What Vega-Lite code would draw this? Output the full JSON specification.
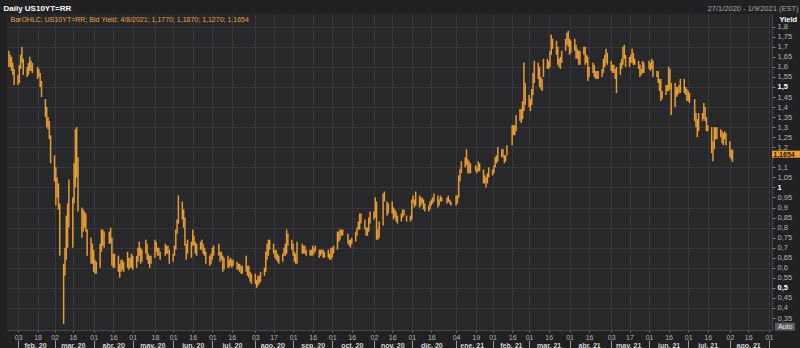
{
"$schema": "https://vega.github.io/schema/vega-lite/v6.json",
"width": 765, "height": 316,
"autosize": {"type": "none"},
"padding": {"left": 7, "top": 14, "right": 28, "bottom": 18},
"background": "#212123",
"config": {"view": {"fill": "#28282b", "stroke": null}, "font": "Liberation Sans"},
"resolve": {"axis": {"x": "independent", "y": "independent"}},
"datasets": {
"yld": [
{"d":"2020-01-27","l":1.60,"h":1.68},{"d":"2020-01-28","l":1.60,"h":1.66},{"d":"2020-01-29","l":1.58,"h":1.65},{"d":"2020-01-30","l":1.56,"h":1.62},{"d":"2020-01-31","l":1.51,"h":1.59},
{"d":"2020-02-03","l":1.51,"h":1.56},{"d":"2020-02-04","l":1.52,"h":1.61},{"d":"2020-02-05","l":1.59,"h":1.66},{"d":"2020-02-06","l":1.62,"h":1.70},{"d":"2020-02-07","l":1.56,"h":1.64},
{"d":"2020-02-10","l":1.55,"h":1.60},{"d":"2020-02-11","l":1.56,"h":1.62},{"d":"2020-02-12","l":1.58,"h":1.65},{"d":"2020-02-13","l":1.58,"h":1.63},{"d":"2020-02-14","l":1.57,"h":1.62},
{"d":"2020-02-18","l":1.54,"h":1.60},{"d":"2020-02-19","l":1.55,"h":1.59},{"d":"2020-02-20","l":1.50,"h":1.57},{"d":"2020-02-21","l":1.45,"h":1.53},
{"d":"2020-02-24","l":1.35,"h":1.44},{"d":"2020-02-25","l":1.30,"h":1.40},{"d":"2020-02-26","l":1.29,"h":1.35},{"d":"2020-02-27","l":1.24,"h":1.33},{"d":"2020-02-28","l":1.12,"h":1.26},
{"d":"2020-03-02","l":1.03,"h":1.16},{"d":"2020-03-03","l":0.91,"h":1.10},{"d":"2020-03-04","l":0.95,"h":1.05},{"d":"2020-03-05","l":0.89,"h":1.02},{"d":"2020-03-06","l":0.66,"h":0.92},
{"d":"2020-03-09","l":0.32,"h":0.62},{"d":"2020-03-10","l":0.56,"h":0.70},{"d":"2020-03-11","l":0.64,"h":0.86},{"d":"2020-03-12","l":0.70,"h":0.92},{"d":"2020-03-13","l":0.80,"h":1.04},
{"d":"2020-03-16","l":0.70,"h":0.95},{"d":"2020-03-17","l":0.92,"h":1.12},{"d":"2020-03-18","l":1.00,"h":1.29},{"d":"2020-03-19","l":1.05,"h":1.30},{"d":"2020-03-20","l":0.88,"h":1.15},
{"d":"2020-03-23","l":0.75,"h":0.90},{"d":"2020-03-24","l":0.78,"h":0.89},{"d":"2020-03-25","l":0.80,"h":0.88},{"d":"2020-03-26","l":0.78,"h":0.87},{"d":"2020-03-27","l":0.66,"h":0.79},
{"d":"2020-03-30","l":0.62,"h":0.75},{"d":"2020-03-31","l":0.62,"h":0.72},{"d":"2020-04-01","l":0.58,"h":0.69},{"d":"2020-04-02","l":0.57,"h":0.64},{"d":"2020-04-03","l":0.57,"h":0.63},
{"d":"2020-04-06","l":0.60,"h":0.72},{"d":"2020-04-07","l":0.68,"h":0.79},{"d":"2020-04-08","l":0.71,"h":0.79},{"d":"2020-04-09","l":0.70,"h":0.78},
{"d":"2020-04-13","l":0.72,"h":0.78},{"d":"2020-04-14","l":0.72,"h":0.80},{"d":"2020-04-15","l":0.61,"h":0.75},{"d":"2020-04-16","l":0.60,"h":0.67},{"d":"2020-04-17","l":0.60,"h":0.67},
{"d":"2020-04-20","l":0.58,"h":0.66},{"d":"2020-04-21","l":0.55,"h":0.62},{"d":"2020-04-22","l":0.58,"h":0.64},{"d":"2020-04-23","l":0.59,"h":0.64},{"d":"2020-04-24","l":0.58,"h":0.63},
{"d":"2020-04-27","l":0.60,"h":0.68},{"d":"2020-04-28","l":0.59,"h":0.65},{"d":"2020-04-29","l":0.60,"h":0.65},{"d":"2020-04-30","l":0.60,"h":0.67},{"d":"2020-05-01","l":0.59,"h":0.66},
{"d":"2020-05-04","l":0.60,"h":0.66},{"d":"2020-05-05","l":0.63,"h":0.70},{"d":"2020-05-06","l":0.66,"h":0.73},{"d":"2020-05-07","l":0.62,"h":0.70},{"d":"2020-05-08","l":0.63,"h":0.69},
{"d":"2020-05-11","l":0.67,"h":0.74},{"d":"2020-05-12","l":0.64,"h":0.72},{"d":"2020-05-13","l":0.62,"h":0.67},{"d":"2020-05-14","l":0.60,"h":0.66},{"d":"2020-05-15","l":0.62,"h":0.66},
{"d":"2020-05-18","l":0.65,"h":0.74},{"d":"2020-05-19","l":0.68,"h":0.73},{"d":"2020-05-20","l":0.66,"h":0.70},{"d":"2020-05-21","l":0.66,"h":0.70},{"d":"2020-05-22","l":0.64,"h":0.68},
{"d":"2020-05-26","l":0.66,"h":0.72},{"d":"2020-05-27","l":0.67,"h":0.71},{"d":"2020-05-28","l":0.67,"h":0.71},{"d":"2020-05-29","l":0.62,"h":0.69},
{"d":"2020-06-01","l":0.63,"h":0.67},{"d":"2020-06-02","l":0.66,"h":0.71},{"d":"2020-06-03","l":0.69,"h":0.79},{"d":"2020-06-04","l":0.77,"h":0.84},{"d":"2020-06-05","l":0.82,"h":0.96},
{"d":"2020-06-08","l":0.84,"h":0.93},{"d":"2020-06-09","l":0.80,"h":0.89},{"d":"2020-06-10","l":0.71,"h":0.85},{"d":"2020-06-11","l":0.64,"h":0.72},{"d":"2020-06-12","l":0.67,"h":0.74},
{"d":"2020-06-15","l":0.65,"h":0.73},{"d":"2020-06-16","l":0.71,"h":0.79},{"d":"2020-06-17","l":0.71,"h":0.76},{"d":"2020-06-18","l":0.67,"h":0.73},{"d":"2020-06-19","l":0.66,"h":0.72},
{"d":"2020-06-22","l":0.69,"h":0.73},{"d":"2020-06-23","l":0.69,"h":0.74},{"d":"2020-06-24","l":0.67,"h":0.72},{"d":"2020-06-25","l":0.66,"h":0.70},{"d":"2020-06-26","l":0.62,"h":0.68},
{"d":"2020-06-29","l":0.61,"h":0.66},{"d":"2020-06-30","l":0.62,"h":0.67},{"d":"2020-07-01","l":0.64,"h":0.70},{"d":"2020-07-02","l":0.66,"h":0.71},
{"d":"2020-07-06","l":0.66,"h":0.72},{"d":"2020-07-07","l":0.63,"h":0.68},{"d":"2020-07-08","l":0.64,"h":0.68},{"d":"2020-07-09","l":0.58,"h":0.66},{"d":"2020-07-10","l":0.59,"h":0.65},
{"d":"2020-07-13","l":0.60,"h":0.66},{"d":"2020-07-14","l":0.60,"h":0.64},{"d":"2020-07-15","l":0.61,"h":0.65},{"d":"2020-07-16","l":0.60,"h":0.64},{"d":"2020-07-17","l":0.61,"h":0.64},
{"d":"2020-07-20","l":0.59,"h":0.63},{"d":"2020-07-21","l":0.59,"h":0.62},{"d":"2020-07-22","l":0.58,"h":0.62},{"d":"2020-07-23","l":0.57,"h":0.61},{"d":"2020-07-24","l":0.57,"h":0.61},
{"d":"2020-07-27","l":0.58,"h":0.66},{"d":"2020-07-28","l":0.56,"h":0.61},{"d":"2020-07-29","l":0.55,"h":0.61},{"d":"2020-07-30","l":0.53,"h":0.58},{"d":"2020-07-31","l":0.52,"h":0.57},
{"d":"2020-08-03","l":0.52,"h":0.57},{"d":"2020-08-04","l":0.50,"h":0.54},{"d":"2020-08-05","l":0.51,"h":0.56},{"d":"2020-08-06","l":0.52,"h":0.56},{"d":"2020-08-07","l":0.53,"h":0.58},
{"d":"2020-08-10","l":0.56,"h":0.60},{"d":"2020-08-11","l":0.58,"h":0.68},{"d":"2020-08-12","l":0.64,"h":0.72},{"d":"2020-08-13","l":0.66,"h":0.74},{"d":"2020-08-14","l":0.69,"h":0.74},
{"d":"2020-08-17","l":0.67,"h":0.72},{"d":"2020-08-18","l":0.65,"h":0.69},{"d":"2020-08-19","l":0.64,"h":0.69},{"d":"2020-08-20","l":0.63,"h":0.67},{"d":"2020-08-21","l":0.62,"h":0.66},
{"d":"2020-08-24","l":0.63,"h":0.67},{"d":"2020-08-25","l":0.66,"h":0.70},{"d":"2020-08-26","l":0.66,"h":0.72},{"d":"2020-08-27","l":0.67,"h":0.79},{"d":"2020-08-28","l":0.71,"h":0.77},
{"d":"2020-08-31","l":0.69,"h":0.74},{"d":"2020-09-01","l":0.66,"h":0.72},{"d":"2020-09-02","l":0.63,"h":0.68},{"d":"2020-09-03","l":0.62,"h":0.67},{"d":"2020-09-04","l":0.62,"h":0.73},
{"d":"2020-09-08","l":0.67,"h":0.72},{"d":"2020-09-09","l":0.67,"h":0.71},{"d":"2020-09-10","l":0.67,"h":0.71},{"d":"2020-09-11","l":0.66,"h":0.69},
{"d":"2020-09-14","l":0.66,"h":0.69},{"d":"2020-09-15","l":0.66,"h":0.69},{"d":"2020-09-16","l":0.66,"h":0.71},{"d":"2020-09-17","l":0.67,"h":0.70},{"d":"2020-09-18","l":0.68,"h":0.71},
{"d":"2020-09-21","l":0.65,"h":0.69},{"d":"2020-09-22","l":0.66,"h":0.69},{"d":"2020-09-23","l":0.67,"h":0.69},{"d":"2020-09-24","l":0.65,"h":0.69},{"d":"2020-09-25","l":0.65,"h":0.68},
{"d":"2020-09-28","l":0.65,"h":0.69},{"d":"2020-09-29","l":0.64,"h":0.67},{"d":"2020-09-30","l":0.64,"h":0.70},{"d":"2020-10-01","l":0.65,"h":0.70},{"d":"2020-10-02","l":0.67,"h":0.71},
{"d":"2020-10-05","l":0.69,"h":0.78},{"d":"2020-10-06","l":0.73,"h":0.78},{"d":"2020-10-07","l":0.74,"h":0.79},{"d":"2020-10-08","l":0.76,"h":0.79},{"d":"2020-10-09","l":0.76,"h":0.79},
{"d":"2020-10-13","l":0.72,"h":0.77},{"d":"2020-10-14","l":0.71,"h":0.74},{"d":"2020-10-15","l":0.70,"h":0.74},{"d":"2020-10-16","l":0.72,"h":0.75},
{"d":"2020-10-19","l":0.73,"h":0.78},{"d":"2020-10-20","l":0.76,"h":0.80},{"d":"2020-10-21","l":0.79,"h":0.83},{"d":"2020-10-22","l":0.79,"h":0.87},{"d":"2020-10-23","l":0.82,"h":0.87},
{"d":"2020-10-26","l":0.79,"h":0.84},{"d":"2020-10-27","l":0.76,"h":0.80},{"d":"2020-10-28","l":0.76,"h":0.80},{"d":"2020-10-29","l":0.78,"h":0.85},{"d":"2020-10-30","l":0.82,"h":0.88},
{"d":"2020-11-02","l":0.84,"h":0.88},{"d":"2020-11-03","l":0.85,"h":0.95},{"d":"2020-11-04","l":0.74,"h":0.93},{"d":"2020-11-05","l":0.74,"h":0.79},{"d":"2020-11-06","l":0.75,"h":0.83},
{"d":"2020-11-09","l":0.81,"h":0.97},{"d":"2020-11-10","l":0.93,"h":0.98},{"d":"2020-11-12","l":0.86,"h":0.93},{"d":"2020-11-13","l":0.87,"h":0.92},
{"d":"2020-11-16","l":0.87,"h":0.93},{"d":"2020-11-17","l":0.84,"h":0.90},{"d":"2020-11-18","l":0.85,"h":0.89},{"d":"2020-11-19","l":0.83,"h":0.88},{"d":"2020-11-20","l":0.82,"h":0.86},
{"d":"2020-11-23","l":0.83,"h":0.87},{"d":"2020-11-24","l":0.85,"h":0.89},{"d":"2020-11-25","l":0.86,"h":0.89},{"d":"2020-11-27","l":0.83,"h":0.86},
{"d":"2020-11-30","l":0.83,"h":0.86},{"d":"2020-12-01","l":0.84,"h":0.94},{"d":"2020-12-02","l":0.92,"h":0.96},{"d":"2020-12-03","l":0.90,"h":0.94},{"d":"2020-12-04","l":0.91,"h":0.98},
{"d":"2020-12-07","l":0.90,"h":0.96},{"d":"2020-12-08","l":0.91,"h":0.95},{"d":"2020-12-09","l":0.92,"h":0.95},{"d":"2020-12-10","l":0.89,"h":0.94},{"d":"2020-12-11","l":0.88,"h":0.92},
{"d":"2020-12-14","l":0.88,"h":0.91},{"d":"2020-12-15","l":0.89,"h":0.93},{"d":"2020-12-16","l":0.91,"h":0.94},{"d":"2020-12-17","l":0.92,"h":0.95},{"d":"2020-12-18","l":0.93,"h":0.97},
{"d":"2020-12-21","l":0.90,"h":0.96},{"d":"2020-12-22","l":0.91,"h":0.94},{"d":"2020-12-23","l":0.93,"h":0.96},{"d":"2020-12-24","l":0.93,"h":0.95},
{"d":"2020-12-28","l":0.92,"h":0.95},{"d":"2020-12-29","l":0.93,"h":0.96},{"d":"2020-12-30","l":0.92,"h":0.94},{"d":"2020-12-31","l":0.91,"h":0.93},
{"d":"2021-01-04","l":0.91,"h":0.96},{"d":"2021-01-05","l":0.92,"h":0.96},{"d":"2021-01-06","l":0.95,"h":1.06},{"d":"2021-01-07","l":1.03,"h":1.09},{"d":"2021-01-08","l":1.07,"h":1.13},
{"d":"2021-01-11","l":1.10,"h":1.15},{"d":"2021-01-12","l":1.11,"h":1.19},{"d":"2021-01-13","l":1.07,"h":1.14},{"d":"2021-01-14","l":1.07,"h":1.13},{"d":"2021-01-15","l":1.07,"h":1.12},
{"d":"2021-01-19","l":1.08,"h":1.11},{"d":"2021-01-20","l":1.07,"h":1.10},{"d":"2021-01-21","l":1.08,"h":1.13},{"d":"2021-01-22","l":1.08,"h":1.12},
{"d":"2021-01-25","l":1.02,"h":1.09},{"d":"2021-01-26","l":1.02,"h":1.06},{"d":"2021-01-27","l":1.00,"h":1.05},{"d":"2021-01-28","l":1.02,"h":1.07},{"d":"2021-01-29","l":1.05,"h":1.10},
{"d":"2021-02-01","l":1.06,"h":1.09},{"d":"2021-02-02","l":1.07,"h":1.11},{"d":"2021-02-03","l":1.10,"h":1.15},{"d":"2021-02-04","l":1.12,"h":1.16},{"d":"2021-02-05","l":1.13,"h":1.20},
{"d":"2021-02-08","l":1.15,"h":1.19},{"d":"2021-02-09","l":1.15,"h":1.19},{"d":"2021-02-10","l":1.12,"h":1.16},{"d":"2021-02-11","l":1.13,"h":1.16},{"d":"2021-02-12","l":1.16,"h":1.21},
{"d":"2021-02-16","l":1.21,"h":1.31},{"d":"2021-02-17","l":1.26,"h":1.31},{"d":"2021-02-18","l":1.26,"h":1.31},{"d":"2021-02-19","l":1.28,"h":1.36},
{"d":"2021-02-22","l":1.33,"h":1.39},{"d":"2021-02-23","l":1.32,"h":1.39},{"d":"2021-02-24","l":1.34,"h":1.43},{"d":"2021-02-25","l":1.38,"h":1.62},{"d":"2021-02-26","l":1.41,"h":1.52},
{"d":"2021-03-01","l":1.40,"h":1.46},{"d":"2021-03-02","l":1.38,"h":1.44},{"d":"2021-03-03","l":1.41,"h":1.49},{"d":"2021-03-04","l":1.46,"h":1.57},{"d":"2021-03-05","l":1.52,"h":1.63},
{"d":"2021-03-08","l":1.54,"h":1.62},{"d":"2021-03-09","l":1.50,"h":1.60},{"d":"2021-03-10","l":1.49,"h":1.55},{"d":"2021-03-11","l":1.48,"h":1.54},{"d":"2021-03-12","l":1.55,"h":1.64},
{"d":"2021-03-15","l":1.59,"h":1.64},{"d":"2021-03-16","l":1.59,"h":1.63},{"d":"2021-03-17","l":1.60,"h":1.68},{"d":"2021-03-18","l":1.66,"h":1.76},{"d":"2021-03-19","l":1.69,"h":1.74},
{"d":"2021-03-22","l":1.66,"h":1.73},{"d":"2021-03-23","l":1.61,"h":1.70},{"d":"2021-03-24","l":1.60,"h":1.64},{"d":"2021-03-25","l":1.59,"h":1.65},{"d":"2021-03-26","l":1.62,"h":1.68},
{"d":"2021-03-29","l":1.68,"h":1.74},{"d":"2021-03-30","l":1.71,"h":1.77},{"d":"2021-03-31","l":1.70,"h":1.78},{"d":"2021-04-01","l":1.66,"h":1.74},{"d":"2021-04-02","l":1.67,"h":1.73},
{"d":"2021-04-05","l":1.68,"h":1.74},{"d":"2021-04-06","l":1.64,"h":1.71},{"d":"2021-04-07","l":1.64,"h":1.69},{"d":"2021-04-08","l":1.61,"h":1.68},{"d":"2021-04-09","l":1.61,"h":1.68},
{"d":"2021-04-12","l":1.66,"h":1.70},{"d":"2021-04-13","l":1.61,"h":1.70},{"d":"2021-04-14","l":1.62,"h":1.66},{"d":"2021-04-15","l":1.53,"h":1.65},{"d":"2021-04-16","l":1.55,"h":1.60},
{"d":"2021-04-19","l":1.57,"h":1.62},{"d":"2021-04-20","l":1.55,"h":1.61},{"d":"2021-04-21","l":1.54,"h":1.58},{"d":"2021-04-22","l":1.54,"h":1.58},{"d":"2021-04-23","l":1.54,"h":1.58},
{"d":"2021-04-26","l":1.55,"h":1.59},{"d":"2021-04-27","l":1.57,"h":1.64},{"d":"2021-04-28","l":1.60,"h":1.66},{"d":"2021-04-29","l":1.62,"h":1.69},{"d":"2021-04-30","l":1.61,"h":1.67},
{"d":"2021-05-03","l":1.58,"h":1.63},{"d":"2021-05-04","l":1.57,"h":1.61},{"d":"2021-05-05","l":1.57,"h":1.61},{"d":"2021-05-06","l":1.54,"h":1.59},{"d":"2021-05-07","l":1.47,"h":1.60},
{"d":"2021-05-10","l":1.56,"h":1.62},{"d":"2021-05-11","l":1.59,"h":1.64},{"d":"2021-05-12","l":1.61,"h":1.70},{"d":"2021-05-13","l":1.64,"h":1.71},{"d":"2021-05-14","l":1.60,"h":1.66},
{"d":"2021-05-17","l":1.60,"h":1.65},{"d":"2021-05-18","l":1.62,"h":1.66},{"d":"2021-05-19","l":1.62,"h":1.69},{"d":"2021-05-20","l":1.61,"h":1.67},{"d":"2021-05-21","l":1.61,"h":1.64},
{"d":"2021-05-24","l":1.59,"h":1.63},{"d":"2021-05-25","l":1.55,"h":1.61},{"d":"2021-05-26","l":1.56,"h":1.59},{"d":"2021-05-27","l":1.57,"h":1.63},{"d":"2021-05-28","l":1.57,"h":1.62},
{"d":"2021-06-01","l":1.59,"h":1.63},{"d":"2021-06-02","l":1.58,"h":1.62},{"d":"2021-06-03","l":1.59,"h":1.64},{"d":"2021-06-04","l":1.55,"h":1.63},
{"d":"2021-06-07","l":1.55,"h":1.58},{"d":"2021-06-08","l":1.52,"h":1.58},{"d":"2021-06-09","l":1.48,"h":1.54},{"d":"2021-06-10","l":1.43,"h":1.54},{"d":"2021-06-11","l":1.44,"h":1.48},
{"d":"2021-06-14","l":1.46,"h":1.51},{"d":"2021-06-15","l":1.48,"h":1.51},{"d":"2021-06-16","l":1.48,"h":1.60},{"d":"2021-06-17","l":1.49,"h":1.59},{"d":"2021-06-18","l":1.36,"h":1.52},
{"d":"2021-06-21","l":1.40,"h":1.52},{"d":"2021-06-22","l":1.45,"h":1.50},{"d":"2021-06-23","l":1.46,"h":1.50},{"d":"2021-06-24","l":1.47,"h":1.51},{"d":"2021-06-25","l":1.47,"h":1.54},
{"d":"2021-06-28","l":1.47,"h":1.54},{"d":"2021-06-29","l":1.46,"h":1.50},{"d":"2021-06-30","l":1.43,"h":1.49},{"d":"2021-07-01","l":1.43,"h":1.48},{"d":"2021-07-02","l":1.42,"h":1.47},
{"d":"2021-07-06","l":1.33,"h":1.44},{"d":"2021-07-07","l":1.30,"h":1.37},{"d":"2021-07-08","l":1.25,"h":1.34},{"d":"2021-07-09","l":1.28,"h":1.37},
{"d":"2021-07-12","l":1.33,"h":1.37},{"d":"2021-07-13","l":1.34,"h":1.42},{"d":"2021-07-14","l":1.33,"h":1.40},{"d":"2021-07-15","l":1.28,"h":1.35},{"d":"2021-07-16","l":1.28,"h":1.31},
{"d":"2021-07-19","l":1.17,"h":1.30},{"d":"2021-07-20","l":1.13,"h":1.23},{"d":"2021-07-21","l":1.19,"h":1.30},{"d":"2021-07-22","l":1.24,"h":1.30},{"d":"2021-07-23","l":1.24,"h":1.30},
{"d":"2021-07-26","l":1.25,"h":1.29},{"d":"2021-07-27","l":1.22,"h":1.28},{"d":"2021-07-28","l":1.21,"h":1.27},{"d":"2021-07-29","l":1.24,"h":1.28},{"d":"2021-07-30","l":1.21,"h":1.27},
{"d":"2021-08-02","l":1.15,"h":1.23},{"d":"2021-08-03","l":1.14,"h":1.19},{"d":"2021-08-04","l":1.127,"h":1.187}
]
},
"layer": [
{
"data": {"name": "yld"},
"mark": {"type": "rule", "color": "#e39c32", "strokeWidth": 1.5},
"encoding": {
"x": {"field": "d", "type": "temporal",
 "scale": {"type": "utc", "domain": [{"year": 2020, "month": 1, "date": 25, "hours": 13, "utc": true}, {"year": 2021, "month": 9, "date": 3, "hours": 7, "utc": true}]},
 "axis": {"orient": "bottom", "title": null, "zindex": 0,
  "values": [{"year":2020,"month":2,"date":3,"utc":true},{"year":2020,"month":2,"date":18,"utc":true},{"year":2020,"month":3,"date":2,"utc":true},{"year":2020,"month":3,"date":16,"utc":true},{"year":2020,"month":4,"date":1,"utc":true},{"year":2020,"month":4,"date":16,"utc":true},{"year":2020,"month":5,"date":1,"utc":true},{"year":2020,"month":5,"date":18,"utc":true},{"year":2020,"month":6,"date":1,"utc":true},{"year":2020,"month":6,"date":16,"utc":true},{"year":2020,"month":7,"date":1,"utc":true},{"year":2020,"month":7,"date":16,"utc":true},{"year":2020,"month":8,"date":3,"utc":true},{"year":2020,"month":8,"date":17,"utc":true},{"year":2020,"month":9,"date":1,"utc":true},{"year":2020,"month":9,"date":16,"utc":true},{"year":2020,"month":10,"date":1,"utc":true},{"year":2020,"month":10,"date":16,"utc":true},{"year":2020,"month":11,"date":2,"utc":true},{"year":2020,"month":11,"date":16,"utc":true},{"year":2020,"month":12,"date":1,"utc":true},{"year":2020,"month":12,"date":16,"utc":true},{"year":2021,"month":1,"date":4,"utc":true},{"year":2021,"month":1,"date":19,"utc":true},{"year":2021,"month":2,"date":1,"utc":true},{"year":2021,"month":2,"date":16,"utc":true},{"year":2021,"month":3,"date":1,"utc":true},{"year":2021,"month":3,"date":16,"utc":true},{"year":2021,"month":4,"date":1,"utc":true},{"year":2021,"month":4,"date":16,"utc":true},{"year":2021,"month":5,"date":3,"utc":true},{"year":2021,"month":5,"date":17,"utc":true},{"year":2021,"month":6,"date":1,"utc":true},{"year":2021,"month":6,"date":16,"utc":true},{"year":2021,"month":7,"date":1,"utc":true},{"year":2021,"month":7,"date":16,"utc":true},{"year":2021,"month":8,"date":2,"utc":true},{"year":2021,"month":8,"date":16,"utc":true},{"year":2021,"month":9,"date":1,"utc":true}],
  "labelExpr": "utcFormat(datum.value, '%d')",
  "grid": true, "gridColor": "#38383c", "gridWidth": 1,
  "tickSize": 2, "tickColor": "#77777a", "domainColor": "#48484c",
  "labelColor": "#b4b4b4", "labelFontSize": 7, "labelPadding": 1, "labelFlush": false, "labelOverlap": false}},
"y": {"field": "l", "type": "quantitative",
 "scale": {"domain": [0.2903, 1.8632], "nice": false, "zero": false},
 "axis": {"orient": "right", "zindex": 0,
  "values": [0.35,0.4,0.45,0.5,0.55,0.6,0.65,0.7,0.75,0.8,0.85,0.9,0.95,1,1.05,1.1,1.2,1.25,1.3,1.35,1.4,1.45,1.5,1.55,1.6,1.65,1.7,1.75,1.8],
  "labelExpr": "replace(format(datum.value, '.2~f'), '.', ',')",
  "grid": true, "gridColor": "#38383c",
  "gridOpacity": {"condition": {"test": "abs(datum.value*10 - round(datum.value*10)) < 0.01", "value": 1}, "value": 0},
  "tickSize": 3, "tickColor": "#8a8a8a", "domainColor": "#48484c",
  "labelColor": {"condition": {"test": "abs(datum.value-0.5)<0.001 || abs(datum.value-1)<0.001 || abs(datum.value-1.5)<0.001", "value": "#ffffff"}, "value": "#b4b4b4"},
  "labelFontWeight": {"condition": {"test": "abs(datum.value-0.5)<0.001 || abs(datum.value-1)<0.001 || abs(datum.value-1.5)<0.001", "value": "bold"}, "value": "normal"},
  "labelFontSize": 7.5, "labelPadding": 2, "labelFlush": false, "labelOverlap": false,
  "title": "Yield", "titleAngle": 0, "titleX": 7, "titleY": 7, "titleAlign": "left", "titleBaseline": "alphabetic",
  "titleColor": "#ffffff", "titleFontSize": 7.5, "titleFontWeight": "bold"}},
"y2": {"field": "h"}
}
},
{
"data": {"values": [{"v": 1.1654, "t": "1,1654"}]},
"mark": {"type": "rule", "color": "#f0a020", "strokeWidth": 7, "strokeCap": "butt"},
"encoding": {
"x": {"datum": {"year": 2021, "month": 9, "date": 3, "hours": 7, "utc": true}, "type": "temporal", "scale": {"type": "utc"},
 "axis": {"orient": "bottom", "offset": 10, "title": null, "labels": false, "domain": false, "grid": false,
  "ticks": true, "tickSize": 8, "tickColor": "#9a9a9a",
  "values": [{"year":2020,"month":2,"date":3,"utc":true},{"year":2020,"month":3,"date":2,"utc":true},{"year":2020,"month":4,"date":1,"utc":true},{"year":2020,"month":5,"date":1,"utc":true},{"year":2020,"month":6,"date":1,"utc":true},{"year":2020,"month":7,"date":1,"utc":true},{"year":2020,"month":8,"date":3,"utc":true},{"year":2020,"month":9,"date":1,"utc":true},{"year":2020,"month":10,"date":1,"utc":true},{"year":2020,"month":11,"date":2,"utc":true},{"year":2020,"month":12,"date":1,"utc":true},{"year":2021,"month":1,"date":4,"utc":true},{"year":2021,"month":2,"date":1,"utc":true},{"year":2021,"month":3,"date":1,"utc":true},{"year":2021,"month":4,"date":1,"utc":true},{"year":2021,"month":5,"date":3,"utc":true},{"year":2021,"month":6,"date":1,"utc":true},{"year":2021,"month":7,"date":1,"utc":true},{"year":2021,"month":8,"date":2,"utc":true},{"year":2021,"month":9,"date":1,"utc":true}]}},
"x2": {"datum": {"year": 2021, "month": 9, "date": 25, "utc": true}},
"y": {"field": "v", "type": "quantitative",
 "axis": {"orient": "left", "values": [], "labels": false, "ticks": false, "domain": false, "grid": false,
  "title": "Daily US10YT=RR", "titleAngle": 0, "titleX": -4, "titleY": -4, "titleAlign": "left", "titleBaseline": "alphabetic",
  "titleColor": "#ffffff", "titleFontSize": 8, "titleFontWeight": "bold", "titleLimit": 1000}}
}
},
{
"data": {"values": [{"v": 1.1654, "t": "1,1654"}]},
"mark": {"type": "text", "align": "left", "baseline": "middle", "dx": 1, "dy": 0.5, "fontSize": 7, "fontWeight": "bold", "color": "#1a1a1a"},
"encoding": {
"x": {"datum": {"year": 2021, "month": 9, "date": 3, "hours": 12, "utc": true}, "type": "temporal", "scale": {"type": "utc"},
 "axis": {"orient": "bottom", "offset": 11, "title": null, "ticks": false, "domain": false, "grid": false,
  "labelPadding": 0, "labelColor": "#d4d4d4", "labelFontSize": 7, "labelFontWeight": "bold", "labelFlush": false, "labelOverlap": false, "labelBaseline": "top",
  "labelExpr": "['ene.','feb.','mar.','abr.','may.','jun.','jul.','ago.','sep.','oct.','nov.','dic.'][utcmonth(datum.value)] + ' ' + utcFormat(datum.value, '%y')",
  "values": [{"year":2020,"month":2,"date":16,"utc":true},{"year":2020,"month":3,"date":16,"utc":true},{"year":2020,"month":4,"date":16,"utc":true},{"year":2020,"month":5,"date":16,"utc":true},{"year":2020,"month":6,"date":16,"utc":true},{"year":2020,"month":7,"date":16,"utc":true},{"year":2020,"month":8,"date":16,"utc":true},{"year":2020,"month":9,"date":16,"utc":true},{"year":2020,"month":10,"date":16,"utc":true},{"year":2020,"month":11,"date":16,"utc":true},{"year":2020,"month":12,"date":16,"utc":true},{"year":2021,"month":1,"date":16,"utc":true},{"year":2021,"month":2,"date":15,"utc":true},{"year":2021,"month":3,"date":16,"utc":true},{"year":2021,"month":4,"date":16,"utc":true},{"year":2021,"month":5,"date":16,"utc":true},{"year":2021,"month":6,"date":16,"utc":true},{"year":2021,"month":7,"date":16,"utc":true},{"year":2021,"month":8,"date":16,"utc":true}]}},
"y": {"field": "v", "type": "quantitative",
 "axis": {"orient": "left", "values": [], "labels": false, "ticks": false, "domain": false, "grid": false,
  "title": "BarOHLC; US10YT=RR; Bid Yield; 4/8/2021; 1,1770; 1,1870; 1,1270; 1,1654", "titleAngle": 0, "titleX": 3, "titleY": 7, "titleAlign": "left", "titleBaseline": "alphabetic",
  "titleColor": "#e6a23c", "titleFontSize": 7, "titleFontWeight": "normal", "titleLimit": 1000}},
"text": {"field": "t"}
}
},
{
"data": {"values": [{"t": "Auto"}]},
"mark": {"type": "rule", "color": "#5c5c5e", "strokeWidth": 8, "strokeCap": "butt"},
"encoding": {
"x": {"datum": {"year": 2021, "month": 9, "date": 5, "hours": 12, "utc": true}, "type": "temporal", "scale": {"type": "utc"},
 "axis": {"orient": "top", "values": [], "labels": false, "ticks": false, "domain": false, "grid": false,
  "title": "27/1/2020 - 1/9/2021 (EST)", "titleX": 791, "titleY": -4, "titleAlign": "right", "titleBaseline": "alphabetic",
  "titleColor": "#a8a8a8", "titleFontSize": 7.5, "titleFontWeight": "normal", "titleLimit": 1000}},
"x2": {"datum": {"year": 2021, "month": 9, "date": 21, "utc": true}},
"y": {"datum": 0.307, "type": "quantitative", "axis": null}
}
},
{
"data": {"values": [{"t": "Auto"}]},
"mark": {"type": "text", "align": "center", "baseline": "middle", "fontSize": 7, "color": "#e8e8e8"},
"encoding": {
"x": {"datum": {"year": 2021, "month": 9, "date": 13, "hours": 8, "utc": true}, "type": "temporal", "scale": {"type": "utc"}, "axis": null},
"y": {"datum": 0.307, "type": "quantitative", "axis": null},
"text": {"field": "t"}
}
}
]
}
